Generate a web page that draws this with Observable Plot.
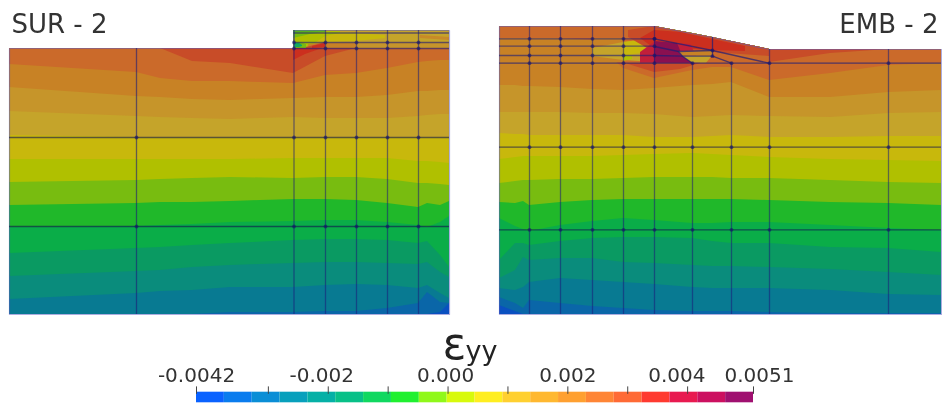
<!DOCTYPE html>
<html>
<head>
<meta charset="utf-8">
<script src="https://cdn.jsdelivr.net/npm/d3@7"></script>
<script src="https://cdn.jsdelivr.net/npm/@observablehq/plot@0.6"></script>
<style>
html,body{margin:0;padding:0;background:#fff}
#chart{position:relative;width:942px;height:416px;overflow:hidden}
#chart svg{display:block;max-width:none;position:absolute;left:0;top:0;background:transparent}
#mesh{filter:blur(0.6px)}
#bar{filter:blur(0.35px)}
</style>
</head>
<body>
<div id="chart"></div>
<script>
// Contour bands, top (B1) to bottom (B14): colour and lower limit per column. B15 fills down to the base.
const bandColors = ["#c84c28","#cb6a2a","#c88225","#c6952a","#c5a42a","#c8b80c","#b0c000","#78bc10","#20b82a","#0aad48","#0a9a62","#0a8c7c","#087a92","#0a66a8","#0a50c0"];
const baseY = 314;

const leftX = [9,136,160,192,230,293,325,356,387,418,427,440,449];
const leftTop = [48,48,48,48,48,48,48,48,48,48,48,48,48];
const leftBands = [
  [48,48,48,61,63,73,56,48,48,48,48,48,48],
  [64,72,78,81,81,83,75,73,68,62,61,60,60],
  [87,96,97,99,100,98,97,97,95,91,91,90,90],
  [111,116,117,118,119,117,118,118,118,116,115,114,114],
  [135,137,137,137,137,137,137,137,137,137,137,137,137],
  [159,159,159,159,159,158,158,158,158,161,161,162,163],
  [182,180,179,178,177,178,177,177,179,183,183,184,185],
  [205,203,202,202,201,199,199,200,203,207,203,205,201],
  [227,226,225,224,222,221,220,220,222,225,227,222,216],
  [253,248,247,245,243,240,239,239,240,243,241,255,267],
  [276,271,270,267,265,263,262,262,263,264,262,272,277],
  [299,293,291,290,287,287,285,284,285,288,285,293,298],
  [314,314,314,314,312,312,311,311,308,303,292,302,303],
  [314,314,314,314,314,314,314,314,314,314,314,312,303]
];

const rightX = [499,515,523,529,560,592,623,654,692,712,731,769,830,888,941];
const rightTop = [26,26,26,26,26,26,26,26,33,37,41,49,49,49,49];
const rightBands = [
  [26,26,26,26,26,26,26,26,33,37,41,62,53,49,49],
  [38,38,38,38,38,40,68,78,70,67,67,80,73,65,63],
  [85,85,86,86,87,89,90,88,85,84,82,97,97,92,90],
  [112,112,112,112,112,113,113,114,117,116,115,116,117,113,112],
  [133,134,134,135,135,135,135,137,137,136,135,137,137,136,136],
  [159,157,156,156,156,156,155,154,153,154,155,157,159,160,161],
  [183,181,180,180,179,179,178,177,177,177,178,178,180,182,183],
  [202,203,201,205,202,200,199,199,199,199,199,200,202,203,205],
  [218,226,229,231,225,221,218,220,223,223,222,222,225,228,230],
  [260,243,243,245,241,238,237,237,238,241,243,243,247,248,252],
  [278,270,257,260,258,258,262,263,265,266,266,267,269,272,275],
  [288,290,287,282,278,280,282,284,287,288,288,288,290,294,295],
  [297,303,308,300,303,306,308,310,311,311,311,312,313,313,313],
  [305,311,314,314,314,314,314,314,314,314,314,314,314,314,314]
];

// Local patches around the surcharge and the embankment: [colour, xs, upper limits, lower limits]
const surchargePatches = [
  ["#c6952a",[293,449],[30,30],[48,48]],
  ["#c5a42a",[293,449],[30,30],[42,42]],
  ["#c88a28",[420,449],[35,37],[38,40]],
  ["#c8b80c",[293,325,356,385],[30,31,33,35],[48,42,41,38]],
  ["#b0c000",[293,310,325,340],[30,31,31,31],[48,46,36,33]],
  ["#78bc10",[293,310,325],[30,30,30],[38,34,32]],
  ["#58b020",[293,325],[30,30],[32.5,31.5]],
  ["#c88225",[308,320,356],[44,43,43],[48,48,48]],
  ["#c84c28",[306,318,325],[47,44,42],[48,48,48]],
  ["#cc2f1e",[312,325],[46,43],[48,47]],
  ["#78bc10",[293,300,306],[42,42,44],[48,48,48]],
  ["#10a860",[294,299,302],[43,43,45],[47,47,46]],
  ["#cc2f1e",[293,305,322],[48,48,48],[60,54,48]]
];
const embankmentPatches = [
  ["#c88225",[592,623],[38,38],[62,62]],
  ["#c5a42a",[592,623,654],[48,42,38],[56,60,62]],
  ["#c8b80c",[623,640,654],[42,40,40],[56,53,53]],
  ["#b0c000",[623,632],[55,56],[61,59]],
  ["#c84c28",[628,654,712,769],[30,26,37,49],[37,52,58,63]],
  ["#cc2f1e",[640,654,680,712,745],[38,30,32,39,46],[38,48,48,50,51]],
  ["#cb6a2a",[712,769],[52,56],[63,63]],
  ["#c84c28",[640,654],[62.7,62.7],[63,62.7]],
  ["#c84c28",[625,654,680,700],[63,63,63,63],[63,72,69,63]],
  ["#c21f3a",[640,654,690,700],[52,42,44,62.7],[62.7,62.7,62.7,62.7]],
  ["#8a1050",[654,677,682,692],[41,43,55,62.7],[62.7,62.7,62.7,62.7]],
  ["#c88225",[678,682,712],[51,51,50],[51.5,55.7,55.7]],
  ["#c5a42a",[682,692,706,712],[55.7,55.7,55.7,55.7],[55.7,62.7,62.7,55.7]]
];

// Finite element mesh
const leftVerticals = [136,293.5,325,356,387,418];
const leftHorizontals = [137,226];
const leftStripRows = [32.5,42,48];
const rightVerticals = [529,560,592,623,654];
const rightLower = [692,731];
const rightEnds = [769,888];
const rightRows = [38.3,45.7,55,62.7];
const rightHorizontals = [146.7,229.3];
const slopedLines = [
  {id:"a",x:654,y:38.3},{id:"a",x:712,y:50},{id:"a",x:768.5,y:62.7},
  {id:"b",x:654,y:46},{id:"b",x:678,y:51},{id:"b",x:712,y:50},
  {id:"c",x:654,y:55},{id:"c",x:682,y:55.7},{id:"c",x:712,y:55.7},
  {id:"d",x:678,y:51},{id:"d",x:682,y:55.7},{id:"d",x:692,y:62.7},
  {id:"e",x:712,y:37},{id:"e",x:712,y:55.7},{id:"e",x:731,y:62.7}
];
const outlineLeft = [[9,48],[293.5,48],[293.5,30],[449,30],[449,314],[9,314],[9,48]];
const outlineRight = [[499,26],[654,26],[712,37],[769,49],[941,49],[941,314],[499,314],[499,26]];

// Colour bar
const barMin = -0.0042, barMax = 0.0051;
const barColors = ["#0a62ff","#0a7cee","#0a8ed6","#08a0bc","#05b0a6","#08c088","#10d860","#20f030","#90f81a","#d8fa0c","#ffee20","#ffd030","#ffb830","#ffa030","#ff8535","#ff6a35","#ff3a30","#e81a50","#cc1060","#a01070"];
const tickValues = [-0.0042,-0.003,-0.002,-0.001,0,0.001,0.002,0.003,0.004,0.0051];
const labelAt = [-0.0042,-0.00211,-0.00004,0.002,0.00382,0.0052];
const labelTexts = ["-0.0042","-0.002","0.000","0.002","0.004","0.0051"];

const surTitle = ["SUR - 2"];
const embTitle = ["EMB - 2"];

function bandRows(panel, xs, top, bands){
  const rows = [];
  xs.forEach((x,i)=>rows.push({z:panel+"15",x,y1:top[i],y2:baseY,fill:"#0a50c0"}));
  for(let b=bands.length-1;b>=0;b--){
    xs.forEach((x,i)=>rows.push({z:panel+b,x,y1:top[i],y2:bands[b][i],fill:bandColors[b]}));
  }
  return rows;
}
function patchRows(panel, patches){
  return patches.flatMap((p,k)=>p[1].map((x,i)=>({z:panel+"p"+k,x,y1:p[2][i],y2:p[3][i],fill:p[0]})));
}
const areaRows = [
  ...bandRows("L",leftX,leftTop,leftBands),
  ...bandRows("R",rightX,rightTop,rightBands),
  ...patchRows("S",surchargePatches),
  ...patchRows("E",embankmentPatches)
];
const cross = (xs,ys)=>xs.flatMap(x=>ys.map(y=>({x,y})));
const nodes = [
  ...cross(leftVerticals,leftHorizontals),
  ...cross(leftVerticals.slice(1),leftStripRows.slice(1)),
  ...cross(rightVerticals,[...rightRows,...rightHorizontals]),
  ...cross(rightLower,[62.7,...rightHorizontals]),
  ...cross(rightEnds,[62.7,...rightHorizontals]),
  {x:654,y:38.3},{x:712,y:50},{x:712,y:55.7}
];
const meshStroke = "#1c1c78";
const sw = 1.3;

const mesh = Plot.plot({
  width:942,height:416,margin:0,
  x:{domain:[0,942],range:[0,942],axis:null},
  y:{domain:[0,416],range:[0,416],axis:null},
  marks:[
    Plot.areaY(areaRows,{x:"x",y1:"y1",y2:"y2",z:"z",fill:"fill"}),
    Plot.line(outlineLeft,{x:d=>d[0],y:d=>d[1],stroke:"#5a5ac0",strokeWidth:1.2,strokeOpacity:0.5}),
    Plot.line(outlineRight,{x:d=>d[0],y:d=>d[1],stroke:"#5a5ac0",strokeWidth:1.2,strokeOpacity:0.5}),
    // left panel lines
    Plot.ruleX([136],{x:d=>d,y1:48,y2:314,stroke:meshStroke,strokeOpacity:0.6,strokeWidth:sw}),
    Plot.ruleX(leftVerticals.slice(1),{x:d=>d,y1:30,y2:314,stroke:meshStroke,strokeOpacity:0.55,strokeWidth:sw}),
    Plot.ruleY(leftHorizontals,{y:d=>d,x1:9,x2:449,stroke:"#101050",strokeOpacity:0.6,strokeWidth:sw}),
    Plot.ruleY(leftStripRows,{y:d=>d,x1:293.5,x2:449,stroke:meshStroke,strokeOpacity:0.6,strokeWidth:sw}),
    // right panel lines
    Plot.ruleX(rightVerticals,{x:d=>d,y1:26,y2:314,stroke:meshStroke,strokeOpacity:0.55,strokeWidth:sw}),
    Plot.ruleX(rightLower,{x:d=>d,y1:62.7,y2:314,stroke:meshStroke,strokeOpacity:0.55,strokeWidth:sw}),
    Plot.ruleX(rightEnds,{x:d=>d,y1:49,y2:314,stroke:meshStroke,strokeOpacity:0.55,strokeWidth:sw}),
    Plot.ruleY(rightRows.slice(0,3),{y:d=>d,x1:499,x2:654,stroke:meshStroke,strokeOpacity:0.6,strokeWidth:sw}),
    Plot.ruleY([62.7],{y:d=>d,x1:499,x2:941,stroke:meshStroke,strokeOpacity:0.7,strokeWidth:sw}),
    Plot.ruleY(rightHorizontals,{y:d=>d,x1:499,x2:941,stroke:"#101050",strokeOpacity:0.6,strokeWidth:sw}),
    Plot.line(slopedLines,{x:"x",y:"y",z:"id",stroke:meshStroke,strokeOpacity:0.7,strokeWidth:sw}),
    Plot.dot(nodes,{x:"x",y:"y",r:1.9,fill:"#14146a",fillOpacity:0.6,stroke:"none"}),
    // text
    Plot.text(surTitle,{x:()=>11,y:()=>24,text:d=>d,textAnchor:"start",fontSize:26,fontFamily:"'DejaVu Sans'",fill:"#333",lineAnchor:"middle"}),
    Plot.text(embTitle,{x:()=>938,y:()=>24,text:d=>d,textAnchor:"end",fontSize:26,fontFamily:"'DejaVu Sans'",fill:"#333",lineAnchor:"middle"}),
    Plot.text(["ε"],{x:()=>442,y:()=>344,text:d=>d,textAnchor:"start",fontSize:44,fontFamily:"'DejaVu Sans'",fill:"#222",lineAnchor:"middle"}),
    Plot.text(["yy"],{x:()=>465,y:()=>351,text:d=>d,textAnchor:"start",fontSize:27,fontFamily:"'DejaVu Sans'",fill:"#222",lineAnchor:"middle"})
  ]
});

const step = (barMax-barMin)/barColors.length;
const bar = Plot.plot({
  width:942,height:416,margin:0,
  x:{domain:[barMin,barMax],range:[196,753],axis:null},
  y:{domain:[0,1],range:[402.3,391.7],axis:null},
  marks:[
    Plot.rect(barColors,{x1:(d,i)=>barMin+i*step,x2:(d,i)=>barMin+(i+1)*step,y1:()=>0,y2:()=>1,fill:d=>d}),
    Plot.ruleX(tickValues,{x:d=>d,y1:()=>0.8,y2:()=>1.5,stroke:"#444",strokeWidth:1}),
    Plot.text(labelTexts,{x:(d,i)=>labelAt[i],y:()=>1.95,text:d=>d,fontSize:20,fontFamily:"'DejaVu Sans'",fill:"#333",lineAnchor:"bottom",textAnchor:"middle"})
  ]
});
mesh.id="mesh"; bar.id="bar";
document.getElementById("chart").append(mesh,bar);
</script>
</body>
</html>
